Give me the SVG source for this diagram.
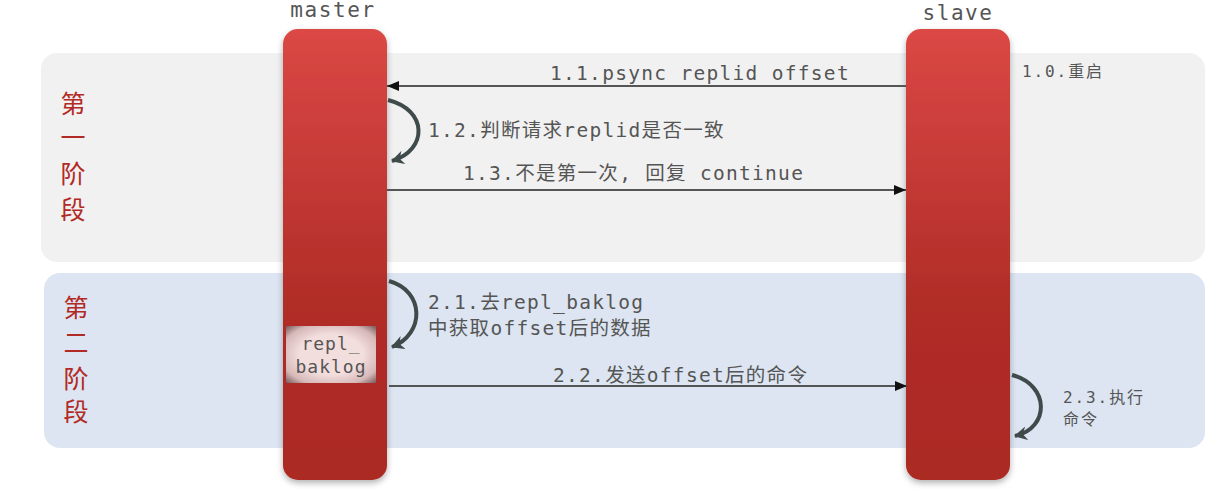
<svg xmlns="http://www.w3.org/2000/svg" width="1228" height="502" viewBox="0 0 1228 502">
<style>
.t{font-family:"DejaVu Sans Mono","Noto Sans CJK SC",monospace;fill:#555;}
.lbl{font-size:19.5px;letter-spacing:1.3px;}
.small{font-size:16px;letter-spacing:1.9px;}
.head{font-size:21px;letter-spacing:1.6px;}
.ph{font-family:"Noto Sans CJK SC",sans-serif;font-size:25px;fill:#b22a25;text-anchor:middle;}
.msg{stroke:#555;stroke-width:2;fill:none;}
.self{stroke:#3f4a4a;stroke-width:4;fill:none;}
</style>
<defs>
<linearGradient id="col" x1="0" y1="0" x2="0" y2="1">
<stop offset="0" stop-color="#db4845"/>
<stop offset="0.6" stop-color="#b12d27"/>
<stop offset="1" stop-color="#ab2924"/>
</linearGradient>
<filter id="sh" x="-20%" y="-5%" width="140%" height="115%">
<feDropShadow dx="0" dy="3" stdDeviation="3" flood-color="#000" flood-opacity="0.3"/>
</filter>
<radialGradient id="box" cx="0.5" cy="0.5" r="0.7">
<stop offset="0.5" stop-color="#f3dede"/>
<stop offset="0.8" stop-color="#d6b8b8"/>
<stop offset="1" stop-color="#7a5c5c"/>
</radialGradient>
<marker id="ah" viewBox="0 0 12 10" refX="12" refY="5" markerWidth="12" markerHeight="10" markerUnits="userSpaceOnUse" orient="auto">
<path d="M0,0 L12,5 L0,10 z" fill="#111"/>
</marker>
<marker id="ch" viewBox="0 0 14 14" refX="12" refY="7" markerWidth="14" markerHeight="14" markerUnits="userSpaceOnUse" orient="auto">
<path d="M0,0 L13,7 L0,14 L4,7 z" fill="#3f4a4a"/>
</marker>
</defs>

<g id="phase1">
<rect x="41" y="53" width="1164" height="209" rx="16" fill="#f1f1f1"/>
<text class="ph" x="73" y="113">第</text>
<text class="ph" x="73" y="147">一</text>
<text class="ph" x="73" y="183">阶</text>
<text class="ph" x="73" y="219">段</text>
</g>
<g id="phase2">
<rect x="44" y="273" width="1161" height="175" rx="16" fill="#dce5f1"/>
<text class="ph" x="76" y="317">第</text>
<text class="ph" x="76" y="352">二</text>
<text class="ph" x="76" y="388">阶</text>
<text class="ph" x="76" y="421">段</text>
</g>

<g id="master">
<text class="t head" x="333" y="17" text-anchor="middle">master</text>
<rect x="283" y="29" width="104" height="451" rx="15" fill="url(#col)" filter="url(#sh)"/>
</g>
<g id="slave">
<text class="t head" x="958" y="20" text-anchor="middle">slave</text>
<rect x="906" y="29" width="104" height="451" rx="15" fill="url(#col)" filter="url(#sh)"/>
<text class="t small" x="1022" y="77">1.0.重启</text>
</g>
<g id="repl_baklog">
<rect x="286" y="326" width="90" height="57" fill="url(#box)"/>
<text class="t" font-size="18" letter-spacing="1" x="331" y="350" text-anchor="middle">repl_</text>
<text class="t" font-size="18" letter-spacing="1" x="331" y="373" text-anchor="middle">baklog</text>
</g>

<g id="connectors">
<line class="msg" x1="906" y1="86" x2="387" y2="86" marker-end="url(#ah)"/>
<text class="t lbl" x="550" y="80">1.1.psync replid offset</text>

<path class="self" d="M388,100 C428,110 428,150 392,161" marker-end="url(#ch)"/>
<text class="t lbl" x="428" y="137">1.2.判断请求replid是否一致</text>

<line class="msg" x1="387" y1="190" x2="906" y2="190" marker-end="url(#ah)"/>
<text class="t lbl" x="463" y="180">1.3.不是第一次, 回复 continue</text>

<path class="self" d="M389,281 C425,291 425,334 392,347" marker-end="url(#ch)"/>
<text class="t lbl" x="428" y="309">2.1.去repl_baklog</text>
<text class="t lbl" x="428" y="335">中获取offset后的数据</text>

<line class="msg" x1="389" y1="386" x2="907" y2="386" marker-end="url(#ah)"/>
<text class="t lbl" x="553" y="382">2.2.发送offset后的命令</text>

<path class="self" d="M1012,375 C1050,385 1050,428 1015,436" marker-end="url(#ch)"/>
<text class="t small" x="1063" y="403">2.3.执行</text>
<text class="t small" x="1063" y="425">命令</text>
</g>
</svg>
